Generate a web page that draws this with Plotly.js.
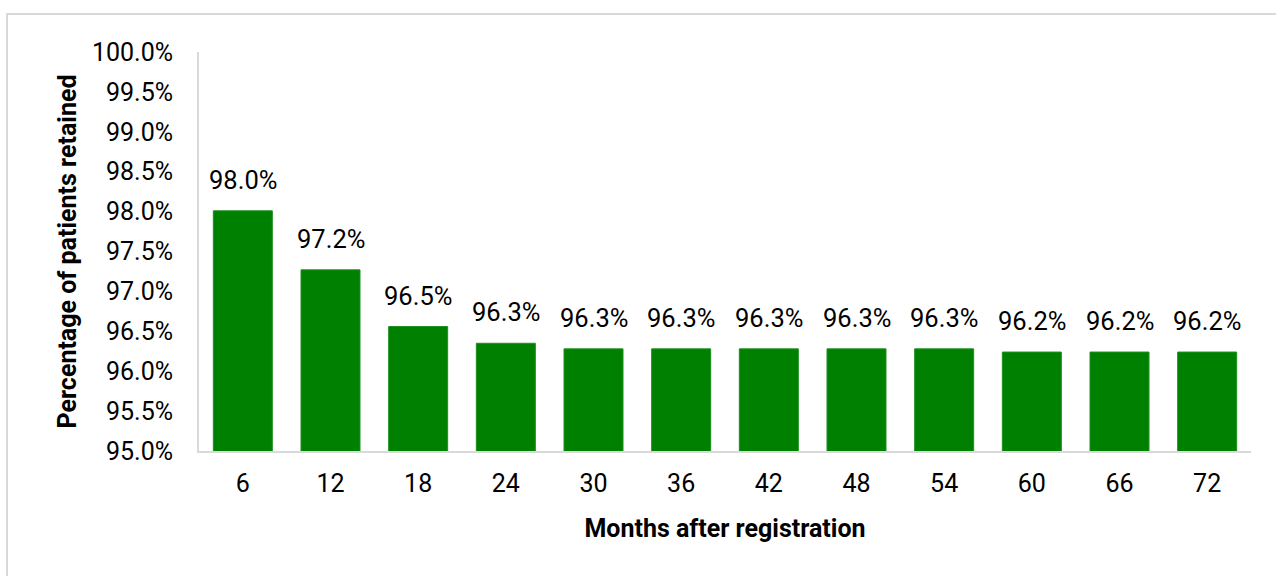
<!DOCTYPE html>
<html>
<head>
<meta charset="utf-8">
<script src="https://cdn.plot.ly/plotly-3.0.1.min.js"></script>
<style>
html,body{margin:0;padding:0;background:#fff;}
#frame{position:absolute;left:6px;top:13px;width:1300px;height:600px;border-top:2px solid #d9d9d9;border-left:2px solid #d9d9d9;pointer-events:none;}
#chart{position:absolute;left:0;top:0;width:1276px;height:576px;}
</style>
</head>
<body>
<div id="chart"></div>
<div id="frame"></div>
<script>
const months = ['6','12','18','24','30','36','42','48','54','60','66','72'];
const retained = [98.01, 97.27, 96.56, 96.35, 96.28, 96.28, 96.28, 96.28, 96.28, 96.24, 96.24, 96.24];
const valueLabels = ['98.0%','97.2%','96.5%','96.3%','96.3%','96.3%','96.3%','96.3%','96.3%','96.2%','96.2%','96.2%'];
const yTickVals = [95.0, 95.5, 96.0, 96.5, 97.0, 97.5, 98.0, 98.5, 99.0, 99.5, 100.0];
const yTickText = yTickVals.map(v => v.toFixed(1) + '%');

const FONT = 'Roboto, "Liberation Sans", sans-serif';

const trace = {
  type: 'bar',
  x: months,
  y: retained,
  marker: {color: '#008000', line: {color: '#1f8f1f', width: 1}},
  hoverinfo: 'x+y'
};

const annotations = months.map((m, i) => ({
  x: i, y: retained[i], xref: 'x', yref: 'y',
  text: valueLabels[i], showarrow: false,
  yanchor: 'bottom', xanchor: 'center', yshift: 14,
  font: {family: FONT, size: 25.5, color: '#000'}
}));

const layout = {
  width: 1276, height: 576,
  margin: {l: 199, r: 25, t: 52, b: 125},
  paper_bgcolor: '#fff', plot_bgcolor: '#fff',
  bargap: 0.327,
  showlegend: false,
  font: {family: FONT, size: 25, color: '#000'},
  xaxis: {
    type: 'category',
    range: [-0.5, months.length - 0.5],
    showline: true, linecolor: '#d9d9d9', linewidth: 2,
    ticks: '', showgrid: false, zeroline: false,
    ticklabelstandoff: 9,
    tickfont: {family: FONT, size: 25, color: '#000'},
    title: {text: 'Months after registration', standoff: 22,
            font: {family: FONT, size: 25, color: '#000', weight: 'bold'}},
    automargin: false
  },
  yaxis: {
    range: [95, 100],
    tickmode: 'array',
    tickvals: yTickVals,
    ticktext: yTickText,
    showline: true, linecolor: '#d9d9d9', linewidth: 2,
    ticks: '', showgrid: false, zeroline: false,
    ticklabelstandoff: 19,
    tickfont: {family: FONT, size: 25, color: '#000'},
    title: {text: 'Percentage of patients retained', standoff: 8,
            font: {family: FONT, size: 25, color: '#000', weight: 'bold'}},
    automargin: false
  },
  annotations: annotations
};

Plotly.newPlot('chart', [trace], layout, {displayModeBar: false});
</script>
</body>
</html>
